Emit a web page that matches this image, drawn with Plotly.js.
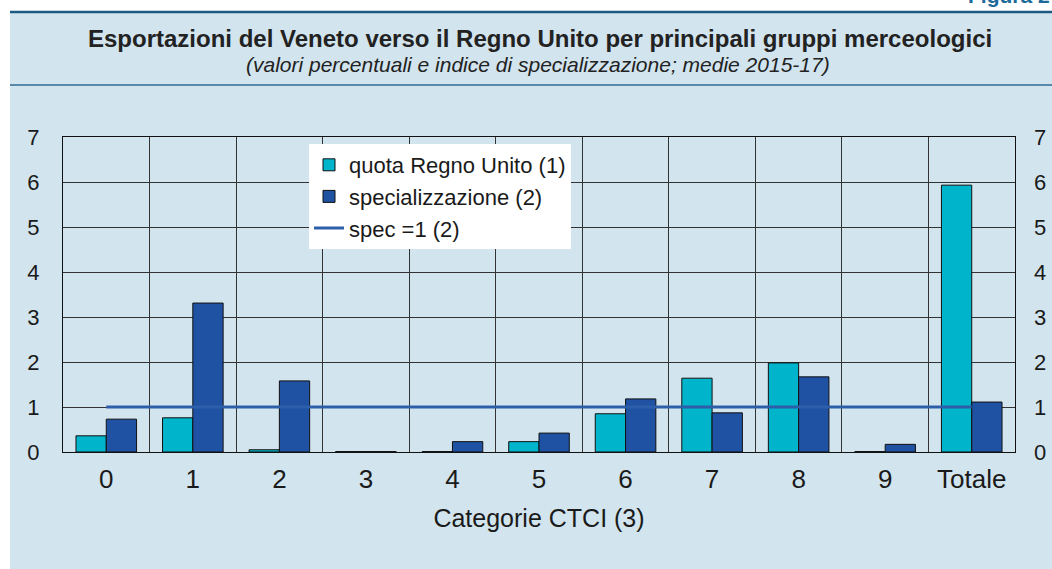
<!DOCTYPE html>
<html>
<head>
<meta charset="utf-8">
<script src="https://cdn.plot.ly/plotly-3.0.1.min.js"></script>
<style>html,body{margin:0;padding:0;background:#fff;}#chart{width:1052px;height:569px;}</style>
</head>
<body>
<div id="chart"></div>
<script>
var categories = ['0','1','2','3','4','5','6','7','8','9','Totale'];
var quotaRegnoUnito = [0.36, 0.76, 0.05, 0.01, 0.01, 0.23, 0.85, 1.64, 1.98, 0.01, 5.93];
var specializzazione = [0.73, 3.31, 1.58, 0.01, 0.23, 0.42, 1.18, 0.87, 1.67, 0.17, 1.11];
var specUno = [1,1,1,1,1,1,1,1,1,1,1];
var yTicks = [0,1,2,3,4,5,6,7];

var FONT = 'Liberation Sans, Arial, sans-serif';
// plot area in px
var L = 63, R = 1015, T = 137, B = 452;
function px(x){ return (x - L) / (R - L); }
function py(y){ return (B - y) / (B - T); }

var traces = [
  {type:'bar', name:'quota Regno Unito (1)', x:categories, y:quotaRegnoUnito,
   marker:{color:'#00b4cb', line:{color:'#111', width:1}}},
  {type:'bar', name:'specializzazione (2)', x:categories, y:specializzazione,
   marker:{color:'#1f52a2', line:{color:'#111', width:1}}},
  {type:'scatter', mode:'lines', name:'spec =1 (2)', x:categories, y:specUno, yaxis:'y2',
   line:{color:'#2c5ea9', width:3}}
];

var layout = {
  width:1052, height:569,
  margin:{l:L, r:1052-R, t:T, b:569-B},
  paper_bgcolor:'#ffffff', plot_bgcolor:'#ffffff',
  font:{family:FONT, color:'#1a1a1a'},
  barmode:'group', bargap:0.3, bargroupgap:0,
  showlegend:true,
  legend:{x:px(309), y:py(144), xanchor:'left', yanchor:'top', bgcolor:'#ffffff',
          font:{family:FONT, size:22, color:'#1a1a1a'}, tracegroupgap:0, itemwidth:30},
  xaxis:{type:'category', tickson:'boundaries', showgrid:true, gridcolor:'#333', gridwidth:1,
         ticks:'', showline:true, linecolor:'#111', linewidth:1, mirror:true,
         tickfont:{family:FONT, size:26, color:'#1a1a1a'}, ticklabelstandoff:4,
         title:{text:'Categorie CTCI (3)', font:{family:FONT, size:25, color:'#1a1a1a'}, standoff:16},
         zeroline:false, fixedrange:true},
  yaxis:{range:[0,7], tickvals:yTicks, showgrid:true, gridcolor:'#333', gridwidth:1,
         ticks:'', showline:true, linecolor:'#111', linewidth:1, mirror:true, zeroline:false,
         tickfont:{family:FONT, size:22, color:'#1a1a1a'}, ticklabelstandoff:18},
  yaxis2:{range:[0,7], tickvals:yTicks, overlaying:'y', side:'right', showgrid:false,
          ticks:'', zeroline:false, showline:false,
          tickfont:{family:FONT, size:22, color:'#1a1a1a'}, ticklabelstandoff:18},
  shapes:[
    {type:'rect', xref:'paper', yref:'paper', x0:px(10), x1:px(1070), y0:py(600), y1:py(12),
     fillcolor:'#d2e4ee', line:{width:0}, layer:'below'},
    {type:'line', xref:'paper', yref:'paper', x0:px(10), x1:px(1070), y0:py(12), y1:py(12),
     line:{color:'#1c5a84', width:2.5}},
    {type:'line', xref:'paper', yref:'paper', x0:px(10), x1:px(1070), y0:py(85), y1:py(85),
     line:{color:'#2f6b90', width:1.5}}
  ],
  annotations:[
    {text:'<b>Esportazioni del Veneto verso il Regno Unito per principali gruppi merceologici</b>',
     xref:'paper', yref:'paper', x:px(540), y:py(38), xanchor:'center', yanchor:'middle',
     showarrow:false, font:{family:FONT, size:24, color:'#222'}},
    {text:'<i>(valori percentuali e indice di specializzazione; medie 2015-17)</i>',
     xref:'paper', yref:'paper', x:px(538), y:py(65), xanchor:'center', yanchor:'middle',
     showarrow:false, font:{family:FONT, size:21, color:'#222'}},
    {text:'<b>Figura 2</b>',
     xref:'paper', yref:'paper', x:px(966), y:py(-5), xanchor:'left', yanchor:'middle',
     showarrow:false, font:{family:FONT, size:21, color:'#1c6a9a'}}
  ]
};

Plotly.newPlot('chart', traces, layout, {displayModeBar:false, staticPlot:true});
</script>
</body>
</html>
